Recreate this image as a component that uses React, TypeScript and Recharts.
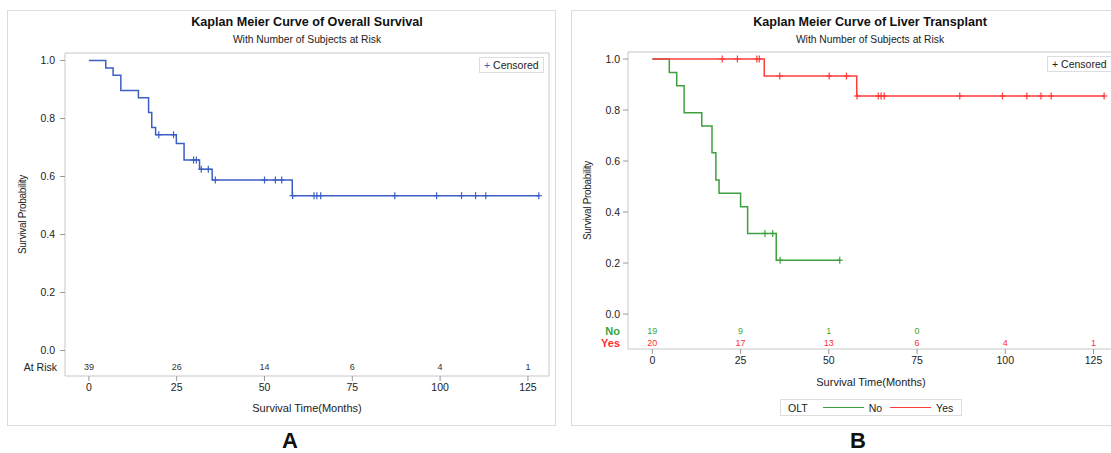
import React from "react";
import { ComposedChart, Line, Scatter, XAxis, YAxis, ReferenceArea } from "recharts";

// Panel A - overall survival: step times and survival after each step
const osTimes = [0, 4.8, 6.9, 9.1, 14.1, 17.0, 17.9, 19.0, 24.9, 27.1, 31.5, 35.1, 57.9, 128.3];
const osSurv = [1.0, 0.974, 0.949, 0.897, 0.872, 0.821, 0.769, 0.744, 0.714, 0.657, 0.625, 0.588, 0.534, 0.534];
const osCensored = [19.9, 24.1, 29.8, 30.6, 32.0, 34.0, 36.0, 50.0, 53.1, 54.9, 58.0, 64.1, 64.9, 66.0, 87.1, 99.0, 106.1, 110.1, 113.0, 128.1];

// Panel B - liver transplant (OLT No / Yes)
const noTimes = [0, 4.8, 6.9, 9.0, 14.0, 16.9, 18.0, 18.9, 25.0, 27.0, 35.1, 53.2];
const noSurv = [1.0, 0.947, 0.895, 0.789, 0.737, 0.632, 0.526, 0.474, 0.421, 0.316, 0.211, 0.211];
const noCensored = [31.9, 34.1, 36.2, 53.1];

const yesTimes = [0, 31.7, 57.9, 128.2];
const yesSurv = [1.0, 0.933, 0.855, 0.855];
const yesCensored = [19.8, 24.1, 29.6, 30.3, 36.1, 50.1, 55.0, 58.0, 64.0, 64.8, 65.7, 87.1, 99.2, 106.1, 110.1, 113.0, 128.0];

// numbers at risk
const riskTimes = [0, 25, 50, 75, 100, 125];
const osAtRisk = [39, 26, 14, 6, 4, 1];
const noAtRisk = [19, 9, 1, 0];
const yesAtRisk = [20, 17, 13, 6, 4, 1];

const xTicks = [0, 25, 50, 75, 100, 125];
const yTicks = [0, 0.2, 0.4, 0.6, 0.8, 1.0];

const BLUE = "#3d5ec4";
const GREEN = "#3f9f3f";
const RED = "#ff3c3c";
const FONT = "'Liberation Sans', Arial, sans-serif";

// rows for the at-risk table inside the plot (in y units below 0)
const OS_ROW = -0.057;
const NO_ROW = -0.067;
const YES_ROW = -0.114;

const toSteps = (times: number[], surv: number[]) => times.map((t, i) => ({ t, s: surv[i] }));
const survAt = (times: number[], surv: number[], t: number) => {
	let s = surv[0];
	times.forEach((tt, i) => {
		if (tt <= t) s = surv[i];
	});
	return s;
};
const toMarks = (cens: number[], times: number[], surv: number[]) =>
	cens.map((t) => ({ t, s: survAt(times, surv, t) }));
const toRisk = (counts: number[], row: number) => counts.map((n, i) => ({ t: riskTimes[i], s: row, n }));

const plus = (color: string) => (p: any) => (
	<g>
		<line x1={p.cx} x2={p.cx} y1={p.cy - 3.5} y2={p.cy + 3.5} stroke={color} strokeWidth={1.2} />
		<line x1={p.cx - 3} x2={p.cx + 3} y1={p.cy} y2={p.cy} stroke={color} strokeWidth={1.2} />
	</g>
);

const riskText = (color: string) => (p: any) => (
	<text x={p.cx} y={p.cy} dy="0.35em" textAnchor="middle" fontSize={9} fill={color} fontFamily={FONT}>
		{p.payload.n}
	</text>
);

type RowLabel = { text: string; color: string; bold: boolean };

const makeYTick = (rows: Record<string, RowLabel>, gap: number) => (props: any) => {
	const { x, y, payload } = props;
	const row = rows[String(payload.value)];
	if (row) {
		return (
			<text x={x + gap - 3} y={y} dy="0.35em" textAnchor="end" fontSize={row.bold ? 11 : 10.5}
				fontWeight={row.bold ? "bold" : "normal"} fill={row.color} fontFamily={FONT}>
				{row.text}
			</text>
		);
	}
	return (
		<g>
			<line x1={x + gap} x2={x + gap + 5} y1={y} y2={y} stroke="#999" />
			<text x={x} y={y} dy="0.35em" textAnchor="end" fontSize={10.5} fill="#222" fontFamily={FONT}>
				{payload.value.toFixed(1)}
			</text>
		</g>
	);
};

const yTitle = (dx: number) => (props: any) => {
	const vb = props.viewBox || { x: 0, y: 0, width: 0, height: 0 };
	const cx = vb.x + dx;
	const cy = vb.y + vb.height / 2;
	return (
		<text x={cx} y={cy} transform={`rotate(-90 ${cx} ${cy})`} textAnchor="middle" dominantBaseline="central"
			fontSize={10} fill="#222" fontFamily={FONT} letterSpacing={-0.3}>
			Survival Probability
		</text>
	);
};

const censoredBox = (left: number, top: number, color: string) => (
	<div style={{
		position: "absolute", left, top, border: "1px solid #ddd", background: "#fff",
		fontSize: 10.5, padding: "1px 4px", lineHeight: "12px", color: "#222", whiteSpace: "nowrap",
	}}>
		<span style={{ color }}>+</span> Censored
	</div>
);

const tickStyle = { fontSize: 10.5, fill: "#222", fontFamily: FONT };

export default function App() {
	const osRows: Record<string, RowLabel> = { [String(OS_ROW)]: { text: "At Risk", color: "#222", bold: false } };
	const olRows: Record<string, RowLabel> = {
		[String(NO_ROW)]: { text: "No", color: "#3aa63a", bold: true },
		[String(YES_ROW)]: { text: "Yes", color: "#ff3030", bold: true },
	};

	return (
		<div style={{
			position: "absolute", left: 0, top: 0, width: 1111, height: 453, overflow: "hidden",
			background: "#fff", fontFamily: FONT,
		}}>
			{/* panel A */}
			<div style={{ position: "absolute", left: 7, top: 10, width: 547, height: 414, border: "1px solid #dcdcdc" }} />
			<div style={{ position: "absolute", left: 0, top: 0 }}>
				<ComposedChart width={560} height={453} margin={{ top: 53, right: 11, left: 5, bottom: 37 }}>
					<ReferenceArea x1={-6.8} x2={131} y1={-0.0879} y2={1.0259} fill="none" stroke="#c8c8c8" ifOverflow="visible" />
					<XAxis type="number" dataKey="t" domain={[-6.8, 131]} ticks={xTicks} interval={0} allowDataOverflow
						height={40} axisLine={false} tickSize={5} tickMargin={3} tickLine={{ stroke: "#999" }} tick={tickStyle}
						label={{ value: "Survival Time(Months)", position: "insideBottom", offset: 4, fontSize: 11, fill: "#222" }} />
					<YAxis type="number" dataKey="s" domain={[-0.0879, 1.0259]} ticks={[OS_ROW, ...yTicks]} interval={0}
						allowDataOverflow width={60} axisLine={false} tickLine={false} tickSize={5} tickMargin={5}
						tick={makeYTick(osRows, 5)} label={{ content: yTitle(17) }} />
					<Line data={toSteps(osTimes, osSurv)} dataKey="s" type="stepAfter" stroke={BLUE} strokeWidth={1.5}
						dot={false} activeDot={false} isAnimationActive={false} />
					<Scatter data={toMarks(osCensored, osTimes, osSurv)} dataKey="s" shape={plus(BLUE)} isAnimationActive={false} />
					<Scatter data={toRisk(osAtRisk, OS_ROW)} dataKey="s" shape={riskText("#333")} isAnimationActive={false} />
				</ComposedChart>
			</div>
			<div style={{ position: "absolute", left: 65, width: 484, top: 15, textAlign: "center", fontSize: 12.6, fontWeight: "bold", color: "#111" }}>
				Kaplan Meier Curve of Overall Survival
			</div>
			<div style={{ position: "absolute", left: 65, width: 484, top: 34, textAlign: "center", fontSize: 10.3, color: "#222" }}>
				With Number of Subjects at Risk
			</div>
			{censoredBox(479, 57, BLUE)}
			<div style={{ position: "absolute", left: 240, width: 100, top: 428, textAlign: "center", fontSize: 22, fontWeight: "bold", color: "#111" }}>
				A
			</div>

			{/* panel B */}
			<div style={{ position: "absolute", left: 571, top: 10, width: 600, height: 414, border: "1px solid #dcdcdc" }} />
			<div style={{ position: "absolute", left: 565, top: 0 }}>
				<ComposedChart width={560} height={453} margin={{ top: 52, right: 11, left: 3, bottom: 64 }}>
					<ReferenceArea x1={-6.9} x2={130.8} y1={-0.137} y2={1.0275} fill="none" stroke="#c8c8c8" ifOverflow="visible" />
					<XAxis type="number" dataKey="t" domain={[-6.9, 130.8]} ticks={xTicks} interval={0} allowDataOverflow
						height={40} axisLine={false} tickSize={5} tickMargin={3} tickLine={{ stroke: "#999" }} tick={tickStyle}
						label={{ value: "Survival Time(Months)", position: "insideBottom", offset: 3, fontSize: 11, fill: "#222" }} />
					<YAxis type="number" dataKey="s" domain={[-0.137, 1.0275]} ticks={[YES_ROW, NO_ROW, ...yTicks]} interval={0}
						allowDataOverflow width={60} axisLine={false} tickLine={false} tickSize={5} tickMargin={3}
						tick={makeYTick(olRows, 3)} label={{ content: yTitle(19) }} />
					<Line data={toSteps(noTimes, noSurv)} dataKey="s" name="No" type="stepAfter" stroke={GREEN} strokeWidth={1.5}
						dot={false} activeDot={false} isAnimationActive={false} />
					<Line data={toSteps(yesTimes, yesSurv)} dataKey="s" name="Yes" type="stepAfter" stroke={RED} strokeWidth={1.5}
						dot={false} activeDot={false} isAnimationActive={false} />
					<Scatter data={toMarks(noCensored, noTimes, noSurv)} dataKey="s" shape={plus(GREEN)} isAnimationActive={false} />
					<Scatter data={toMarks(yesCensored, yesTimes, yesSurv)} dataKey="s" shape={plus(RED)} isAnimationActive={false} />
					<Scatter data={toRisk(noAtRisk, NO_ROW)} dataKey="s" shape={riskText("#3aa63a")} isAnimationActive={false} />
					<Scatter data={toRisk(yesAtRisk, YES_ROW)} dataKey="s" shape={riskText("#ff3030")} isAnimationActive={false} />
				</ComposedChart>
			</div>
			<div style={{ position: "absolute", left: 628, width: 484, top: 15, textAlign: "center", fontSize: 12.6, fontWeight: "bold", color: "#111" }}>
				Kaplan Meier Curve of Liver Transplant
			</div>
			<div style={{ position: "absolute", left: 628, width: 484, top: 34, textAlign: "center", fontSize: 10.3, color: "#222" }}>
				With Number of Subjects at Risk
			</div>
			{censoredBox(1047, 56, "#222")}
			<div style={{
				position: "absolute", left: 780, top: 399, width: 182, height: 17, border: "1px solid #ddd",
				fontSize: 10.5, color: "#222", display: "flex", alignItems: "center", paddingLeft: 7, boxSizing: "border-box",
			}}>
				<span style={{ marginRight: 15 }}>OLT</span>
				<div style={{ width: 41, height: 1.5, background: GREEN, marginRight: 5 }} />
				<span style={{ marginRight: 8 }}>No</span>
				<div style={{ width: 41, height: 1.5, background: RED, marginRight: 5 }} />
				<span>Yes</span>
			</div>
			<div style={{ position: "absolute", left: 808, width: 100, top: 428, textAlign: "center", fontSize: 22, fontWeight: "bold", color: "#111" }}>
				B
			</div>
		</div>
	);
}
